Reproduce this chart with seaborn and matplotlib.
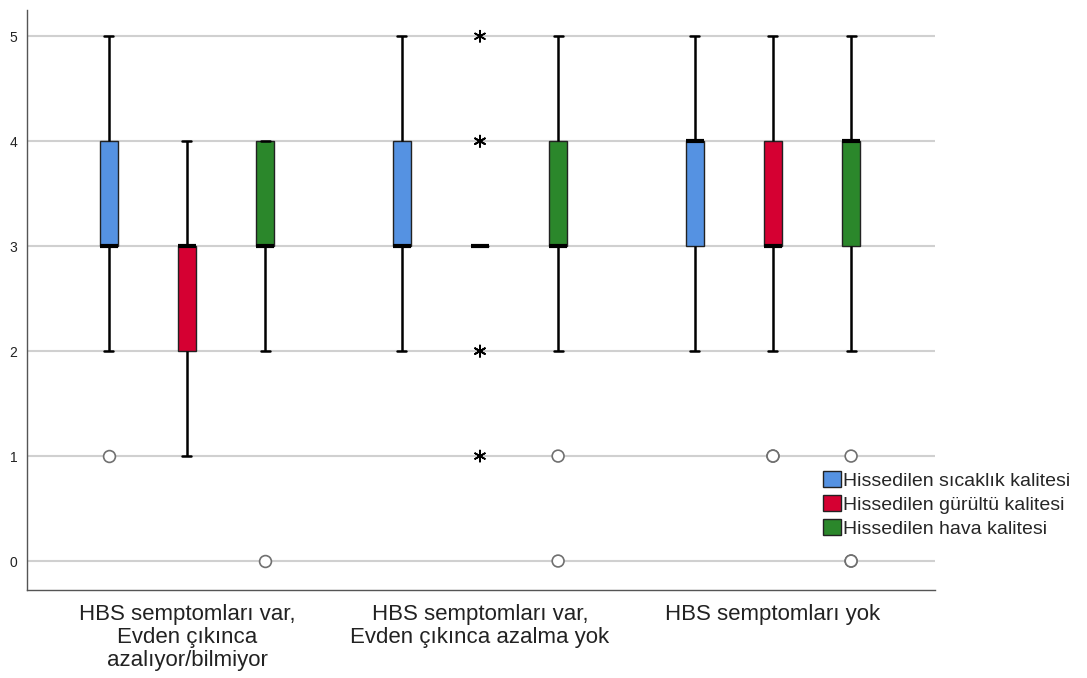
import numpy as np
import pandas as pd
import matplotlib
matplotlib.use("Agg")
import matplotlib.pyplot as plt
import seaborn as sns
from matplotlib.patches import Patch

# ---- data -------------------------------------------------------------
groups = ["HBS semptomları var,\nEvden çıkınca\nazalıyor/bilmiyor",
          "HBS semptomları var,\nEvden çıkınca azalma yok",
          "HBS semptomları yok"]
variables = ["Hissedilen sıcaklık kalitesi",
             "Hissedilen gürültü kalitesi",
             "Hissedilen hava kalitesi"]
scores = [0, 1, 2, 3, 4, 5]
# number of responses per score (0..5), one list per variable
counts_group1 = [[0, 1, 3, 10, 8, 3],
                 [0, 2, 8, 10, 5, 0],
                 [1, 0, 3, 10, 11, 0]]
counts_group2 = [[0, 0, 3, 10, 8, 4],
                 [0, 1, 2, 20, 2, 1],
                 [1, 1, 3, 10, 7, 3]]
counts_group3 = [[0, 0, 3, 6, 12, 4],
                 [0, 2, 3, 9, 8, 3],
                 [2, 1, 3, 5, 10, 4]]
colors = ["#5592E2", "#D50032", "#2B872B"]

# ---- build long table -------------------------------------------------
rows = []
for g, cg in zip(groups, [counts_group1, counts_group2, counts_group3]):
    for v, cnt in zip(variables, cg):
        for s, c in zip(scores, cnt):
            rows += [(g, v, s)] * c
df = pd.DataFrame(rows, columns=["group", "variable", "value"])

# outliers (>1.5 IQR) and extremes (>3 IQR), SPSS style
out_rows, ext_rows = [], []
for (g, v), sub in df.groupby(["group", "variable"], sort=False):
    q1, q3 = np.percentile(sub["value"], [25, 75])
    iqr = q3 - q1
    for val in sub["value"]:
        if val < q1 - 3 * iqr or val > q3 + 3 * iqr:
            ext_rows.append((g, v, val))
        elif val < q1 - 1.5 * iqr or val > q3 + 1.5 * iqr:
            out_rows.append((g, v, val))
out_df = pd.DataFrame(out_rows, columns=["group", "variable", "value"])
ext_df = pd.DataFrame(ext_rows, columns=["group", "variable", "value"])

# ---- plot -------------------------------------------------------------
sns.set_style("white")
plt.rcParams["font.family"] = ["Liberation Sans", "DejaVu Sans"]

fig = plt.figure(figsize=(10.87, 6.78), dpi=100)
ax = fig.add_axes([27 / 1087, 1 - 590 / 678, (935 - 27) / 1087, (590 - 10) / 678])

pal = dict(zip(variables, colors))
sns.boxplot(data=df, x="group", y="value", hue="variable", order=groups,
            hue_order=variables, palette=pal, width=0.8, gap=0.77,
            showfliers=False, whis=1.5, linecolor="#222222", linewidth=1.0,
            medianprops=dict(color="black", linewidth=3),
            whiskerprops=dict(color="black", linewidth=1.8),
            capprops=dict(color="black", linewidth=1.8),
            saturation=1, legend=False, ax=ax)

sns.stripplot(data=out_df, x="group", y="value", hue="variable", order=groups,
              hue_order=variables, palette=["white"] * 3, dodge=True, jitter=False,
              marker="o", size=8.5, edgecolor="#707070", linewidth=1.2,
              legend=False, ax=ax, zorder=5)
sns.stripplot(data=ext_df, x="group", y="value", hue="variable", order=groups,
              hue_order=variables, palette=["black"] * 3, dodge=True, jitter=False,
              marker=(6, 2, 0), size=8, linewidth=1.2,
              legend=False, ax=ax, zorder=5)

ax.set_xlim(-0.546, 2.553)
ax.set_ylim(-0.276, 5.25)
ax.set_yticks([0, 1, 2, 3, 4, 5])
ax.yaxis.grid(True, color="#d0d0d0", linewidth=1.5)
ax.xaxis.grid(False)
ax.set_axisbelow(True)
for s in ["top", "right"]:
    ax.spines[s].set_visible(False)
for s in ["left", "bottom"]:
    ax.spines[s].set_color("#555555")
    ax.spines[s].set_linewidth(1.0)
ax.tick_params(axis="y", length=0, pad=7, labelsize=10, labelcolor="#222222")
ax.tick_params(axis="x", length=0, pad=10, labelsize=16, labelcolor="#222222")
for lab in ax.get_xticklabels():
    lab.set_linespacing(1.13)
ax.set_xlabel("")
ax.set_ylabel("")

handles = [Patch(facecolor=c, edgecolor="#222222", linewidth=1.0) for c in colors]
fig.legend(handles, variables, loc="upper left",
           bbox_to_anchor=(823 / 1087, 1 - 471 / 678), frameon=False,
           handlelength=0.9, handleheight=0.9, handletextpad=0.15,
           labelspacing=0.27, fontsize=14, borderaxespad=0, borderpad=0)

fig.savefig("out.png", dpi=100)
